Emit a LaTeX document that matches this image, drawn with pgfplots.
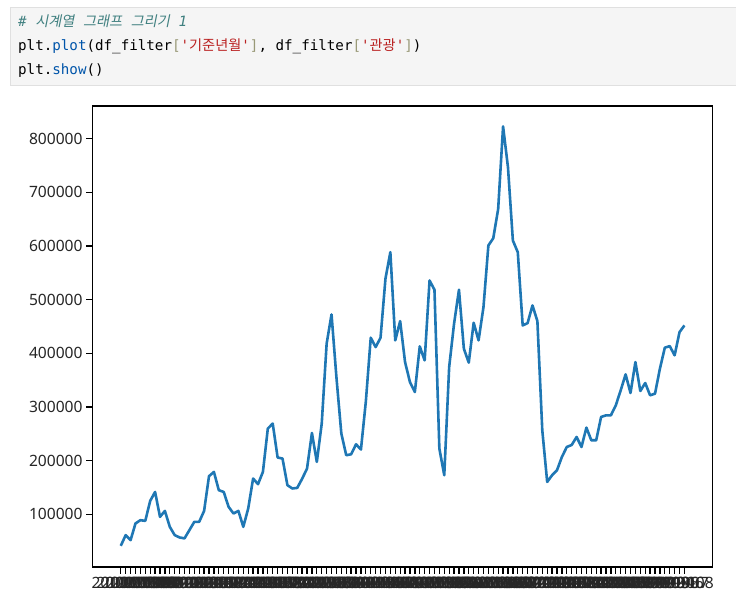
\documentclass[border=0pt]{standalone}
\usepackage{pgfplots}
\pgfplotsset{compat=1.18}
\usepackage{pgfplotstable}
\usepackage{fontspec}
\newfontfamily\tickfont{Noto Sans}
\newfontfamily\codefont[Ligatures=TeXOff]{DejaVu Sans Mono}
\newfontfamily\kr{Noto Sans CJK KR}
\newfontfamily\krit[FakeSlant=0.2]{Noto Sans CJK KR}
\definecolor{c0}{HTML}{1F77B4}
\definecolor{cmt}{HTML}{408080}
\definecolor{prop}{HTML}{0055AA}
\definecolor{str}{HTML}{BA2121}
\definecolor{brk}{HTML}{999977}
\definecolor{cellbg}{HTML}{F5F5F5}
\definecolor{cellbd}{HTML}{E0E0E0}

\pgfplotstableset{columns/ym/.style={string type}}
% monthly tourism visitors, 2010-01 .. 2019-08
\pgfplotstableread{
idx ym val
0 2010-01 41000
1 2010-02 60900
2 2010-03 51600
3 2010-04 82700
4 2010-05 88800
5 2010-06 87500
6 2010-07 124800
7 2010-08 141500
8 2010-09 95000
9 2010-10 106100
10 2010-11 76400
11 2010-12 60900
12 2011-01 56600
13 2011-02 54800
14 2011-03 70200
15 2011-04 85700
16 2011-05 85700
17 2011-06 106100
18 2011-07 170800
19 2011-08 178800
20 2011-09 144700
21 2011-10 141500
22 2011-11 113600
23 2011-12 101300
24 2012-01 106100
25 2012-02 76400
26 2012-03 110600
27 2012-04 166500
28 2012-05 155900
29 2012-06 178800
30 2012-07 259600
31 2012-08 268900
32 2012-09 205600
33 2012-10 203700
34 2012-11 154000
35 2012-12 147900
36 2013-01 149000
37 2013-02 166000
38 2013-03 185000
39 2013-04 251400
40 2013-05 197400
41 2013-06 268900
42 2013-07 417800
43 2013-08 472400
44 2013-09 355000
45 2013-10 250300
46 2013-11 209900
47 2013-12 211700
48 2014-01 230300
49 2014-02 220500
50 2014-03 310000
51 2014-04 429000
52 2014-05 411500
53 2014-06 429000
54 2014-07 538900
55 2014-08 588400
56 2014-09 424000
57 2014-10 460000
58 2014-11 383600
59 2014-12 346300
60 2015-01 327700
61 2015-02 412800
62 2015-03 386700
63 2015-04 535700
64 2015-05 518400
65 2015-06 222300
66 2015-07 172600
67 2015-08 374300
68 2015-09 455100
69 2015-10 518400
70 2015-11 408500
71 2015-12 382500
72 2016-01 456900
73 2016-02 424000
74 2016-03 486000
75 2016-04 600900
76 2016-05 614500
77 2016-06 669200
78 2016-07 823000
79 2016-08 746700
80 2016-09 610200
81 2016-10 588400
82 2016-11 451900
83 2016-12 456200
84 2017-01 489200
85 2017-02 460000
86 2017-03 256400
87 2017-04 160100
88 2017-05 172600
89 2017-06 181900
90 2017-07 206700
91 2017-08 225300
92 2017-09 229000
93 2017-10 243900
94 2017-11 225300
95 2017-12 261400
96 2018-01 237800
97 2018-02 237800
98 2018-03 281200
99 2018-04 284300
100 2018-05 284300
101 2018-06 303000
102 2018-07 330900
103 2018-08 360700
104 2018-09 325900
105 2018-10 383600
106 2018-11 329600
107 2018-12 344500
108 2019-01 321600
109 2019-02 324700
110 2019-03 371300
111 2019-04 410400
112 2019-05 413400
113 2019-06 396100
114 2019-07 439400
115 2019-08 451900
}\tourism

\begin{document}
\begin{tikzpicture}
\useasboundingbox (0,0) rectangle (736pt,603pt);

% code cell
\fill[cellbg] (10pt,517pt) rectangle (736pt,595pt);
\draw[cellbd, line width=1pt] (736pt,595pt) -- (10pt,595pt) -- (10pt,517pt) -- (736pt,517pt);
\node[anchor=base west, inner sep=0pt, text=cmt] at (18pt,576pt)
  {\fontsize{14.2pt}{17pt}\selectfont\codefont\itshape \# {\krit 시계열} {\krit 그래프} {\krit 그리기} 1};
\node[anchor=base west, inner sep=0pt] at (18pt,552pt)
  {\fontsize{14.2pt}{17pt}\selectfont\codefont plt.\textcolor{prop}{plot}(df\_filter\textcolor{brk}{[}\textcolor{str}{'{\kr 기준년월}'}\textcolor{brk}{]}, df\_filter\textcolor{brk}{[}\textcolor{str}{'{\kr 관광}'}\textcolor{brk}{]})};
\node[anchor=base west, inner sep=0pt] at (18pt,528pt)
  {\fontsize{14.2pt}{17pt}\selectfont\codefont plt.\textcolor{prop}{show}()};

\begin{axis}[
    at={(92.6pt,36pt)}, anchor=south west,
    scale only axis,
    width=620pt, height=461pt,
    xmin=-5.75, xmax=120.75,
    ymin=1500, ymax=861000,
    xtick=data,
    xticklabels from table={\tourism}{ym},
    ytick={100000,200000,300000,400000,500000,600000,700000,800000},
    yticklabels={100000,200000,300000,400000,500000,600000,700000,800000},
    scaled y ticks=false,
    tick pos=left,
    tick align=outside,
    major tick length=6.5pt,
    major tick style={black, line width=1.3pt},
    axis line style={black, line width=1.3pt},
    tick label style={font=\tickfont\fontsize{15.6pt}{18pt}\selectfont, text=black!85},
]
\addplot[color=c0, line width=2.6pt, line join=round] table[x=idx, y=val] {\tourism};
\end{axis}
\end{tikzpicture}
\end{document}
